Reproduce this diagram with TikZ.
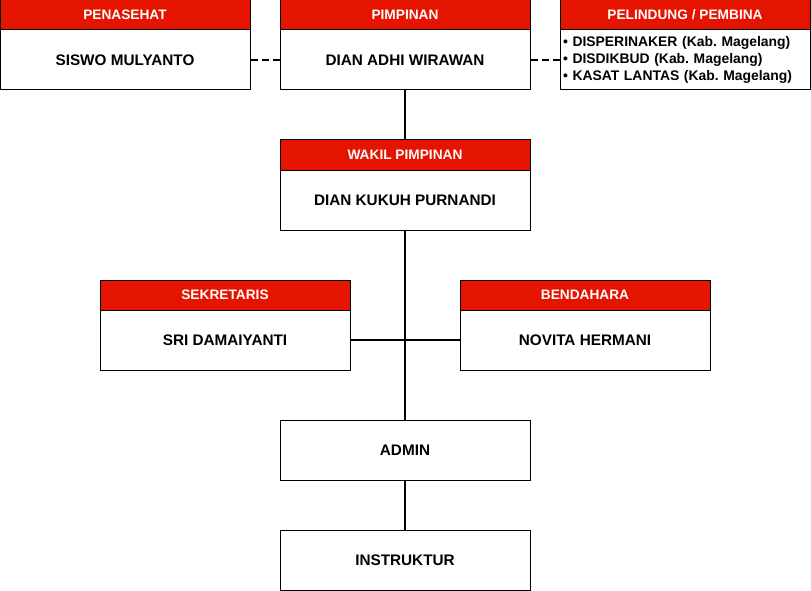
\documentclass[tikz,border=0pt]{standalone}
\usepackage{fontspec}
\setmainfont{Liberation Sans}
\usepackage{xcolor}
\usetikzlibrary{positioning}
\definecolor{headred}{RGB}{229,20,0}
\frenchspacing

\begin{document}
\begin{tikzpicture}[x=1pt,y=1pt,node distance=45pt,on grid,
  head/.style={draw=black,fill=headred,text=white,line width=1pt,minimum width=250pt,minimum height=30pt,inner sep=0pt,font=\fontsize{13.7}{16}\selectfont\bfseries},
  body/.style={draw=black,fill=white,line width=1pt,minimum width=250pt,minimum height=60pt,inner sep=0pt,font=\fontsize{15.3}{18}\selectfont\bfseries},
  link/.style={line width=1.5pt},
  dashlink/.style={line width=1.5pt,dash pattern=on 7pt off 4pt}]
  \useasboundingbox (0,0) rectangle (811,-591);
  % top row
  \node[head]           (pimpH) at (405,-15)             {PIMPINAN};
  \node[body]           (pimp)  [below =of pimpH]        {DIAN ADHI WIRAWAN};
  \node[head]           (penH)  [left =280pt of pimpH]   {PENASEHAT};
  \node[body]           (pen)   [below =of penH]         {SISWO MULYANTO};
  \node[head]           (pelH)  [right =280pt of pimpH]  {PELINDUNG / PEMBINA};
  \node[body,text width=244pt,align=left,font=\fontsize{13.9}{17}\selectfont\bfseries]
                        (pel)   [below =of pelH]
    {\textbullet\ DISPERINAKER (Kab. Magelang)\\ \textbullet\ DISDIKBUD (Kab. Magelang)\\ \textbullet\ KASAT LANTAS (Kab. Magelang)};
  % wakil
  \node[head]           (wakH)  [below =140pt of pimpH]  {WAKIL PIMPINAN};
  \node[body]           (wak)   [below =of wakH]         {DIAN KUKUH PURNANDI};
  % sekretaris and bendahara
  \node[head]           (sekH)  [below left =140pt and 180pt of wakH]  {SEKRETARIS};
  \node[body]           (sek)   [below =of sekH]         {SRI DAMAIYANTI};
  \node[head]           (benH)  [below right =140pt and 180pt of wakH] {BENDAHARA};
  \node[body]           (ben)   [below =of benH]         {NOVITA HERMANI};
  % admin and instruktur
  \node[body]           (adm)   [below =295pt of wakH]   {ADMIN};
  \node[body]           (ins)   [below =110pt of adm]    {INSTRUKTUR};
  % connectors
  \draw[dashlink] (pen.east) -- (pimp.west);
  \draw[dashlink] (pimp.east) -- (pel.west);
  \draw[link] (pimp.south) -- (wakH.north);
  \draw[link] (wak.south) -- (adm.north);
  \draw[link] (sek.east) -- (ben.west);
  \draw[link] (adm.south) -- (ins.north);
\end{tikzpicture}
\end{document}
